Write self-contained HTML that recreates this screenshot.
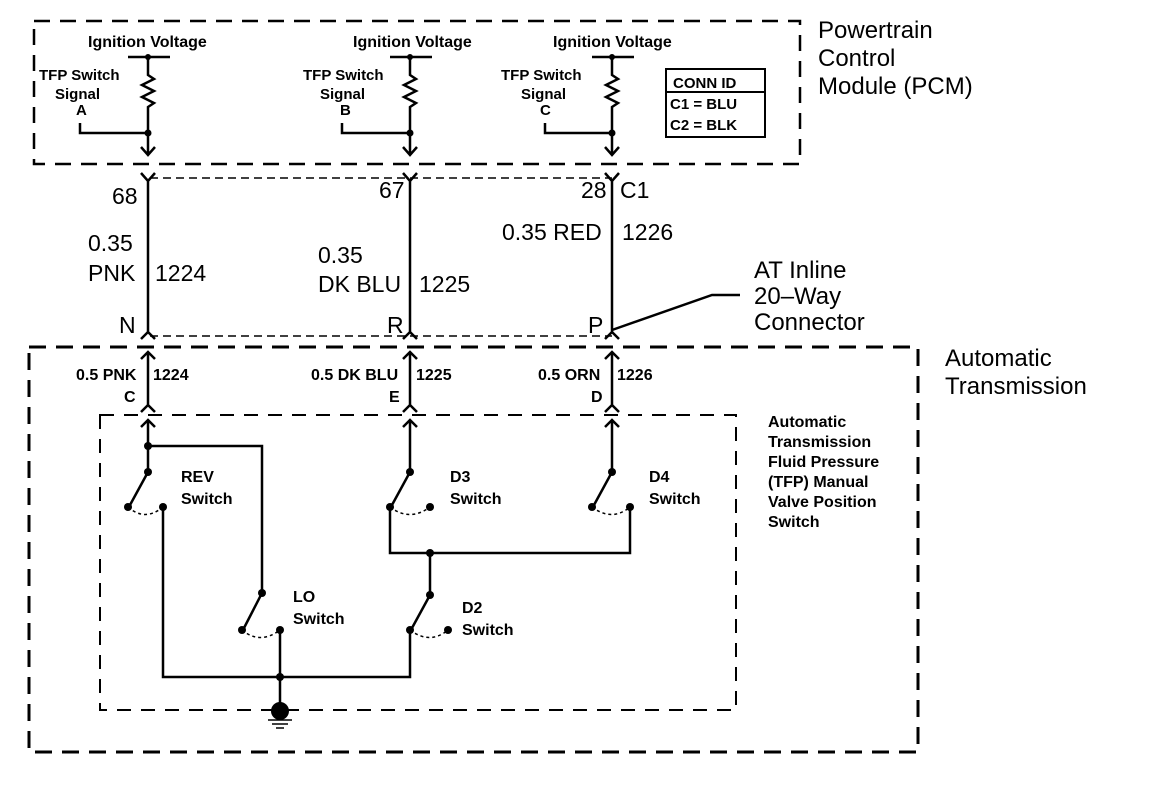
<!DOCTYPE html>
<html><head><meta charset="utf-8"><style>
html,body{margin:0;padding:0;background:#fff}
svg{display:block}
text{font-family:"Liberation Sans",Arial,sans-serif;fill:#000;font-weight:bold}
.s{font-size:16px}.t{font-size:15px}.m{font-size:24px;font-weight:normal}.l{font-size:23px;font-weight:normal}
</style></head><body>
<svg width="1152" height="794" viewBox="0 0 1152 794" xmlns="http://www.w3.org/2000/svg">
<g fill="none" stroke="#000">
<rect x="34" y="21" width="766" height="143" stroke-width="2.5" stroke-dasharray="16,10"/>
<line x1="150" y1="178" x2="612" y2="178" stroke-width="1.5" stroke-dasharray="8,5"/>
<line x1="150" y1="336" x2="612" y2="336" stroke-width="1.5" stroke-dasharray="8,5"/>
<rect x="29" y="347" width="889" height="405" stroke-width="3" stroke-dasharray="17,10"/>
<rect x="100" y="415" width="636" height="295" stroke-width="2" stroke-dasharray="14,10"/>
<rect x="666" y="69" width="99" height="68" stroke-width="2"/>
<line x1="666" y1="92" x2="765" y2="92" stroke-width="2"/>
</g>
<g fill="none" stroke="#000" stroke-width="2.5">
<path d="M128 57H170M148 57V75l6 4-12 6 12 6-12 6 12 6-6 4V155M80 123V133H148M141 147l7 8 7-8"/>
<path d="M390 57H432M410 57V75l6 4-12 6 12 6-12 6 12 6-6 4V155M342 123V133H410M403 147l7 8 7-8"/>
<path d="M592 57H634M612 57V75l6 4-12 6 12 6-12 6 12 6-6 4V155M545 123V133H612M605 147l7 8 7-8"/>
<path d="M148 180V332M141 173l7 8 7-8M141 339l7-7 7 7"/>
<path d="M410 180V332M403 173l7 8 7-8M403 339l7-7 7 7"/>
<path d="M612 180V332M605 173l7 8 7-8M605 339l7-7 7 7"/>
<path d="M612 330L712 295H740"/>
<path d="M148 352V405M141 359l7-7 7 7M141 412l7-7 7 7M148 420V446M141 427l7-7 7 7"/>
<path d="M410 352V405M403 359l7-7 7 7M403 412l7-7 7 7M410 420V472M403 427l7-7 7 7"/>
<path d="M612 352V405M605 359l7-7 7 7M605 412l7-7 7 7M612 420V472M605 427l7-7 7 7"/>
<path d="M148 446V472L130 505M148 446H262V593L244 628"/>
<path d="M163 507V677H410V630M280 630V711"/>
<path d="M410 472L392 505M390 507V553H630V507M612 472L594 505"/>
<path d="M430 553V595L412 628"/>
</g>
<g fill="none" stroke="#000" stroke-width="1.5" stroke-dasharray="3,3">
<path d="M128 507Q145 522 163 507M242 630Q260 645 280 630M390 507Q410 522 430 507M592 507Q612 522 630 507M410 630Q430 645 448 630"/>
</g>
<g fill="#000">
<circle cx="148" cy="57" r="3"/><circle cx="410" cy="57" r="3"/><circle cx="612" cy="57" r="3"/>
<circle cx="148" cy="133" r="3.5"/><circle cx="410" cy="133" r="3.5"/><circle cx="612" cy="133" r="3.5"/>
<circle cx="148" cy="446" r="4"/><circle cx="148" cy="472" r="4"/><circle cx="128" cy="507" r="4"/><circle cx="163" cy="507" r="4"/>
<circle cx="262" cy="593" r="4"/><circle cx="242" cy="630" r="4"/><circle cx="280" cy="630" r="4"/>
<circle cx="410" cy="472" r="4"/><circle cx="390" cy="507" r="4"/><circle cx="430" cy="507" r="4"/>
<circle cx="612" cy="472" r="4"/><circle cx="592" cy="507" r="4"/><circle cx="630" cy="507" r="4"/>
<circle cx="430" cy="553" r="4"/><circle cx="430" cy="595" r="4"/><circle cx="410" cy="630" r="4"/><circle cx="448" cy="630" r="4"/>
<circle cx="280" cy="677" r="4"/><circle cx="280" cy="711" r="9"/>
</g>
<g stroke="#000" stroke-width="1.5"><path d="M268 720H292M272 724H288M276 728H284"/></g>
<text class="s" x="88" y="47">Ignition Voltage</text>
<text class="s" x="353" y="47">Ignition Voltage</text>
<text class="s" x="553" y="47">Ignition Voltage</text>
<text class="t" x="39" y="80">TFP Switch</text><text class="t" x="55" y="99">Signal</text><text class="t" x="76" y="115">A</text>
<text class="t" x="303" y="80">TFP Switch</text><text class="t" x="320" y="99">Signal</text><text class="t" x="340" y="115">B</text>
<text class="t" x="501" y="80">TFP Switch</text><text class="t" x="521" y="99">Signal</text><text class="t" x="540" y="115">C</text>
<text class="t" x="673" y="88">CONN ID</text>
<text class="t" x="670" y="109">C1 = BLU</text>
<text class="t" x="670" y="130">C2 = BLK</text>
<text class="m" x="818" y="38">Powertrain</text>
<text class="m" x="818" y="66">Control</text>
<text class="m" x="818" y="94">Module (PCM)</text>
<text class="l" x="112" y="204">68</text>
<text class="l" x="379" y="198">67</text>
<text class="l" x="581" y="198">28</text><text class="l" x="620" y="198">C1</text>
<text class="l" x="88" y="251">0.35</text><text class="l" x="88" y="281">PNK</text><text class="l" x="155" y="281">1224</text>
<text class="l" x="318" y="263">0.35</text><text class="l" x="318" y="292">DK BLU</text><text class="l" x="419" y="292">1225</text>
<text class="l" x="502" y="240">0.35 RED</text><text class="l" x="622" y="240">1226</text>
<text class="m" x="754" y="278">AT Inline</text>
<text class="m" x="754" y="304">20–Way</text>
<text class="m" x="754" y="330">Connector</text>
<text class="l" x="119" y="333">N</text><text class="l" x="387" y="333">R</text><text class="l" x="588" y="333">P</text>
<text class="m" x="945" y="366">Automatic</text>
<text class="m" x="945" y="394">Transmission</text>
<text class="s" x="76" y="380">0.5 PNK</text><text class="s" x="153" y="380">1224</text>
<text class="s" x="311" y="380">0.5 DK BLU</text><text class="s" x="416" y="380">1225</text>
<text class="s" x="538" y="380">0.5 ORN</text><text class="s" x="617" y="380">1226</text>
<text class="s" x="124" y="402">C</text><text class="s" x="389" y="402">E</text><text class="s" x="591" y="402">D</text>
<text class="s" x="181" y="482">REV</text><text class="s" x="181" y="504">Switch</text>
<text class="s" x="293" y="602">LO</text><text class="s" x="293" y="624">Switch</text>
<text class="s" x="450" y="482">D3</text><text class="s" x="450" y="504">Switch</text>
<text class="s" x="649" y="482">D4</text><text class="s" x="649" y="504">Switch</text>
<text class="s" x="462" y="613">D2</text><text class="s" x="462" y="635">Switch</text>
<text class="s" x="768" y="427">Automatic</text>
<text class="s" x="768" y="447">Transmission</text>
<text class="s" x="768" y="467">Fluid Pressure</text>
<text class="s" x="768" y="487">(TFP) Manual</text>
<text class="s" x="768" y="507">Valve Position</text>
<text class="s" x="768" y="527">Switch</text>
</svg>
</body></html>
